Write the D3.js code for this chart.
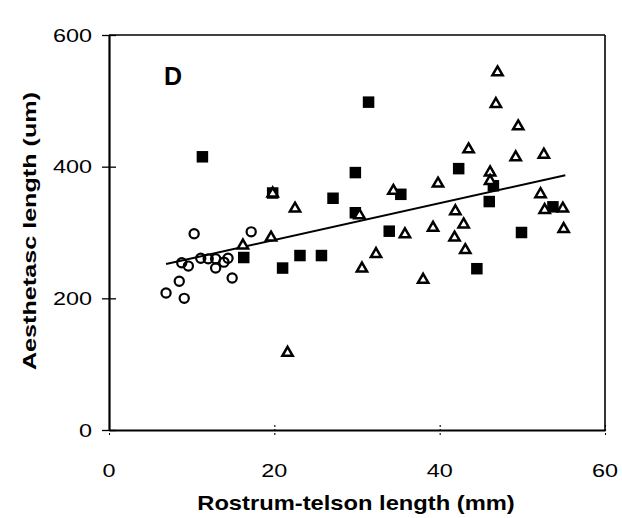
<!DOCTYPE html>
<html><head><meta charset="utf-8">
<script src="https://cdn.jsdelivr.net/npm/d3@7/dist/d3.min.js"></script>
<style>body{margin:0;background:#fff}svg{display:block}text{font-family:"Liberation Sans",Arial,sans-serif;fill:#000}</style>
</head><body><svg id="c" width="622" height="518"></svg>
<script>
const circleX=[10.3,17.2,6.9,9.1,8.5,8.8,9.6,11.1,12.0,12.9,12.9,13.9,14.4,14.9];
const circleY=[298,301,208,200,226,254,249,261,260,260,246,255,261,231];
const squareX=[11.3,19.8,27.1,29.8,29.8,31.4,35.3,42.3,46.5,46.0,33.9,53.7,49.9,44.5,16.3,21.0,23.1,25.7];
const squareY=[415,360,352,391,330,498,358,397,371,347,302,339,300,245,262,246,265,265];
const triX=[19.8,22.5,30.3,19.6,16.2,47.0,46.8,49.5,43.5,49.2,52.6,46.1,46.1,34.4,39.8,52.2,52.7,54.9,41.9,42.9,39.2,35.8,55.0,41.8,43.1,32.3,30.6,38.0,21.6];
const triY=[360,337,327,293,281,544,496,462,427,415,419,392,379,364,375,359,335,337,333,313,308,298,306,293,274,268,246,229,118];
const fitX=[6.9,55.2];
const fitY=[252,387];
const xTicks=[0,20,40,60];
const yTicks=[0,200,400,600];
const xTitle="Rostrum-telson length (mm)";
const yTitle="Aesthetasc length (um)";
const panel="D";

const svg=d3.select("#c");
const L=109,R=605,T=35,B=430;
const x=d3.scaleLinear().domain([0,60]).range([L,R]);
const y=d3.scaleLinear().domain([0,600]).range([B,T]);

// frame
svg.append("line").attr("x1",L).attr("x2",R).attr("y1",T).attr("y2",T).attr("stroke","#000").attr("stroke-width",1.6);
svg.append("line").attr("x1",R).attr("x2",R).attr("y1",T).attr("y2",B).attr("stroke","#000").attr("stroke-width",1.6);

const yAx=svg.append("g").attr("transform",`translate(${L},0)`)
  .call(d3.axisLeft(y).tickValues(yTicks).tickSizeInner(7).tickSizeOuter(0).tickFormat(""));
yAx.selectAll(".tick line").attr("x2",7).attr("x1",-7).attr("stroke-width",1.3);
const xAx=svg.append("g").attr("transform",`translate(0,${B})`)
  .call(d3.axisBottom(x).tickValues(xTicks).tickSizeInner(6).tickSizeOuter(0).tickFormat(""));
xAx.selectAll(".tick line").attr("y1",-5).attr("y2",6).attr("stroke-width",1.1).attr("stroke-dasharray","2,2");
[yAx,xAx].forEach(a=>a.select(".domain").attr("stroke-width",2.2));

// tick labels (wide glyphs as in the scan)
svg.append("g").selectAll("text").data(yTicks).join("text")
  .attr("transform",d=>`translate(92,${y(d)+6.5}) scale(1.3,1)`).attr("text-anchor","end").attr("font-size",18).text(d=>d);
svg.append("g").selectAll("text").data(xTicks).join("text")
  .attr("transform",d=>`translate(${x(d)},${476.5}) scale(1.3,1)`).attr("text-anchor","middle").attr("font-size",18).text(d=>d);

svg.append("text").attr("transform","translate(356,510) scale(1.13,1)").attr("text-anchor","middle").attr("font-size",21).attr("font-weight","bold").text(xTitle);
svg.append("text").attr("transform","translate(36,231) rotate(-90) scale(1.36,1)").attr("text-anchor","middle").attr("font-size",18.5).attr("font-weight","bold").text(yTitle);
svg.append("text").attr("x",164).attr("y",85).attr("font-size",25).attr("font-weight","bold").text(panel);

// fit line
svg.append("line").attr("x1",x(fitX[0])).attr("y1",y(fitY[0])).attr("x2",x(fitX[1])).attr("y2",y(fitY[1])).attr("stroke","#000").attr("stroke-width",2);

// squares
svg.append("g").selectAll("rect").data(squareX.map((v,i)=>[v,squareY[i]])).join("rect")
  .attr("x",d=>x(d[0])-5.75).attr("y",d=>y(d[1])-5.75).attr("width",11.5).attr("height",11.5).attr("fill","#000");
// circles
svg.append("g").selectAll("circle").data(circleX.map((v,i)=>[v,circleY[i]])).join("circle")
  .attr("cx",d=>x(d[0])).attr("cy",d=>y(d[1])).attr("r",4.6).attr("fill","none").attr("stroke","#000").attr("stroke-width",2.2);
// triangles
const tri=d3.symbol().type(d3.symbolTriangle).size(46);
svg.append("g").selectAll("path").data(triX.map((v,i)=>[v,triY[i]])).join("path")
  .attr("d",tri).attr("transform",d=>`translate(${x(d[0])},${y(d[1])+0.5})`).attr("fill","#fff").attr("stroke","#000").attr("stroke-width",2.5).attr("stroke-linejoin","miter");
</script></body></html>
